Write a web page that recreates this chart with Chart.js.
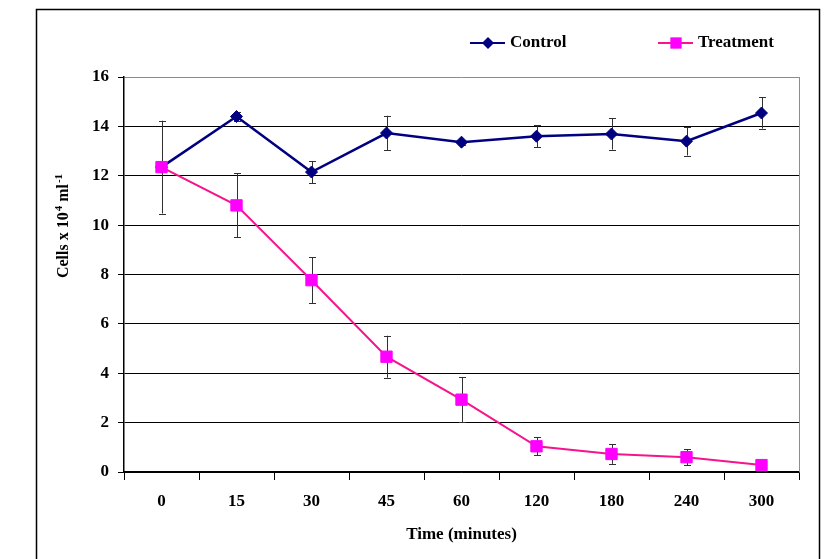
<!DOCTYPE html>
<html>
<head>
<meta charset="utf-8">
<script src="https://cdn.jsdelivr.net/npm/chart.js@4/dist/chart.umd.min.js"></script>
<style>
  html, body { margin: 0; padding: 0; background: #fff; }
  canvas { display: block; }
</style>
</head>
<body>
<canvas id="chart" width="834" height="559"></canvas>
<script>
// Time points (category axis)
const categories   = ['0', '15', '30', '45', '60', '120', '180', '240', '300'];

// Cells x 10^4 ml^-1
const control      = [12.35, 14.4, 12.15, 13.73, 13.36, 13.6, 13.69, 13.4, 14.54];
const controlErr   = [1.88, 0.18, 0.45, 0.7, 0.1, 0.44, 0.63, 0.58, 0.63];
const treatment    = [12.35, 10.8, 7.77, 4.67, 2.93, 1.04, 0.73, 0.6, 0.28];
const treatmentErr = [0, 1.3, 0.93, 0.85, 0.92, 0.37, 0.4, 0.33, 0.08];

const yTicks = [0, 2, 4, 6, 8, 10, 12, 14, 16];

const FONT = 'Liberation Serif';

// White page, outer frame, right border of the plot area
const framePlugin = {
  id: 'frame',
  beforeDraw(chart) {
    const ctx = chart.ctx;
    ctx.save();
    ctx.fillStyle = '#fff';
    ctx.fillRect(0, 0, chart.width, chart.height);
    ctx.strokeStyle = '#000';
    ctx.lineWidth = 1.5;
    ctx.strokeRect(36.5, 9.5, 783, chart.height + 20);
    ctx.restore();
  },
  afterDraw(chart) {
    const { ctx, chartArea: a } = chart;
    ctx.save();
    ctx.strokeStyle = '#8c8c8c';
    ctx.lineWidth = 1;
    ctx.beginPath();
    ctx.moveTo(Math.round(a.right) + 0.5, a.top);
    ctx.lineTo(Math.round(a.right) + 0.5, a.bottom);
    ctx.stroke();
    ctx.restore();
  }
};

// Error bars, drawn under the markers
const errorBarPlugin = {
  id: 'errorBars',
  beforeDatasetsDraw(chart) {
    const ctx = chart.ctx;
    const y = chart.scales.y;
    ctx.save();
    ctx.strokeStyle = '#303030';
    ctx.lineWidth = 1;
    chart.data.datasets.forEach((ds, i) => {
      const meta = chart.getDatasetMeta(i);
      meta.data.forEach((pt, j) => {
        const e = ds.errors[j];
        if (!e) return;
        const x  = Math.round(pt.x) + 0.5;
        const y1 = y.getPixelForValue(ds.data[j] + e);
        const y2 = y.getPixelForValue(ds.data[j] - e);
        ctx.beginPath();
        ctx.moveTo(x, y1); ctx.lineTo(x, y2);
        ctx.moveTo(x - 3.5, Math.round(y1) + 0.5); ctx.lineTo(x + 3.5, Math.round(y1) + 0.5);
        ctx.moveTo(x - 3.5, Math.round(y2) + 0.5); ctx.lineTo(x + 3.5, Math.round(y2) + 0.5);
        ctx.stroke();
      });
    });
    ctx.restore();
  }
};

// Legend with line + marker, and the y title with superscripts
const textPlugin = {
  id: 'texts',
  afterDraw(chart) {
    const ctx = chart.ctx;
    ctx.save();

    const legendX = [470, 658];
    const ly = 43;
    chart.data.datasets.forEach((ds, i) => {
      const x0 = legendX[i];
      ctx.strokeStyle = ds.borderColor;
      ctx.lineWidth = 2;
      ctx.beginPath();
      ctx.moveTo(x0, ly); ctx.lineTo(x0 + 35, ly);
      ctx.stroke();
      const cx = x0 + 18;
      ctx.fillStyle = ds.pointBackgroundColor;
      ctx.beginPath();
      if (ds.pointStyle === 'rectRot') {
        const r = ds.pointRadius;
        ctx.moveTo(cx - r, ly); ctx.lineTo(cx, ly - r);
        ctx.lineTo(cx + r, ly); ctx.lineTo(cx, ly + r);
        ctx.closePath();
      } else {
        const s = ds.pointRadius * Math.SQRT1_2;
        ctx.rect(cx - s, ly - s, 2 * s, 2 * s);
      }
      ctx.fill();
      ctx.fillStyle = '#000';
      ctx.font = 'bold 17px "' + FONT + '"';
      ctx.textBaseline = 'middle';
      ctx.textAlign = 'left';
      ctx.fillText(ds.label, x0 + 40, ly);
    });

    // y axis title: Cells x 10^4 ml^-1
    const parts = [
      { t: 'Cells x 10', sup: false },
      { t: '4', sup: true },
      { t: ' ml', sup: false },
      { t: '-1', sup: true }
    ];
    const big = 'bold 16px "' + FONT + '"';
    const small = 'bold 11px "' + FONT + '"';
    let total = 0;
    parts.forEach(p => {
      ctx.font = p.sup ? small : big;
      p.w = ctx.measureText(p.t).width + (p.sup ? 1 : 0);
      total += p.w;
    });
    ctx.translate(63, 226);
    ctx.rotate(-Math.PI / 2);
    ctx.textBaseline = 'alphabetic';
    ctx.textAlign = 'left';
    ctx.fillStyle = '#000';
    let x = -total / 2;
    parts.forEach(p => {
      ctx.font = p.sup ? small : big;
      ctx.fillText(p.t, x + (p.sup ? 1 : 0), p.sup ? -1 : 5);
      x += p.w;
    });
    ctx.restore();
  }
};

new Chart(document.getElementById('chart'), {
  type: 'line',
  data: {
    labels: categories,
    datasets: [
      {
        label: 'Control',
        data: control,
        errors: controlErr,
        order: 2,
        borderColor: '#000080',
        borderWidth: 2.5,
        pointStyle: 'rectRot',
        pointRadius: 6,
        pointBackgroundColor: '#000080',
        pointBorderColor: '#000080',
        pointBorderWidth: 1,
        tension: 0
      },
      {
        label: 'Treatment',
        data: treatment,
        errors: treatmentErr,
        order: 1,
        borderColor: '#f5148c',
        borderWidth: 2,
        pointStyle: 'rect',
        pointRadius: 8,
        pointBackgroundColor: '#ff00ff',
        pointBorderColor: '#ff00ff',
        pointBorderWidth: 1,
        tension: 0
      }
    ]
  },
  options: {
    responsive: false,
    animation: false,
    layout: { padding: { left: 36, right: 35, top: 77, bottom: 0 } },
    plugins: {
      legend: { display: false },
      tooltip: { enabled: false }
    },
    scales: {
      x: {
        type: 'category',
        offset: true,
        afterFit: s => { s.height = 87; },
        grid: {
          offset: true,
          drawOnChartArea: false,
          drawTicks: true,
          tickLength: 8,
          color: '#000',
          tickColor: '#000'
        },
        border: { display: true, color: '#000', width: 1.5 },
        ticks: {
          color: '#000',
          padding: 11,
          maxRotation: 0,
          font: { family: FONT, size: 17, weight: 'bold' }
        },
        title: {
          display: true,
          text: 'Time (minutes)',
          color: '#000',
          padding: { top: 0, bottom: 14 },
          font: { family: FONT, size: 17, weight: 'bold' }
        }
      },
      y: {
        min: yTicks[0],
        max: yTicks[yTicks.length - 1],
        afterFit: s => { s.width = 88; },
        afterBuildTicks: s => { s.ticks = yTicks.map(v => ({ value: v })); },
        grid: {
          drawTicks: true,
          tickLength: 6,
          color: c => (c.tick && c.tick.value === 16 ? '#8c8c8c' : '#000'),
          tickColor: '#000',
          lineWidth: 1
        },
        border: { display: true, color: '#000', width: 1.5 },
        ticks: {
          color: '#000',
          padding: 9,
          font: { family: FONT, size: 17, weight: 'bold' }
        }
      }
    }
  },
  plugins: [framePlugin, errorBarPlugin, textPlugin]
});
</script>
</body>
</html>
